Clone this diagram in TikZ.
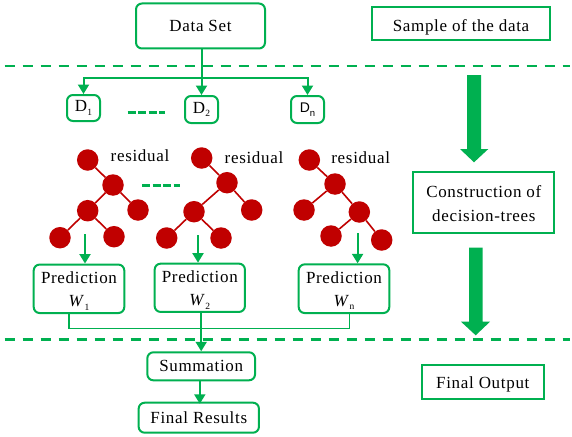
\documentclass[tikz,border=0pt]{standalone}
\usepackage{fontspec}
\setmainfont[LetterSpace=4]{Liberation Serif}
\usetikzlibrary{arrows.meta}
\definecolor{gr}{RGB}{0,176,80}
\definecolor{rd}{RGB}{192,0,0}
\tikzset{
  x=1pt,y=-1pt,
  rbox/.style={draw=gr,line width=2pt,rounded corners=6pt,align=center,inner sep=0pt,font=\fontsize{17}{23}\selectfont,fill=white},
  sbox/.style={draw=gr,line width=2pt,align=center,inner sep=0pt,font=\fontsize{17}{24.5}\selectfont},
  conn/.style={draw=gr,line width=2pt},
  arr/.style={conn,-{Triangle[length=9.5pt,width=11pt]}},
  dashline/.style={draw=gr,line width=2.2pt,dash pattern=on 10.5pt off 7.5pt},
  leaf/.style={circle,fill=rd,minimum size=21.5pt,inner sep=0pt},
  edge/.style={draw=rd,line width=1.6pt},
  txt/.style={font=\fontsize{17}{18}\selectfont,inner sep=0pt},
  bigarr/.style={fill=gr,draw=none},
  gapline/.style={gr,line width=2.4pt,dash pattern=on 8pt off 2.5pt}
}
\newcommand{\boxat}[5][rbox]{\node[#1,minimum width=#4pt,minimum height=#5pt] (#2) at (#3) }
\newcommand{\smallsub}[1]{\raisebox{-3.5pt}{\fontsize{9.5}{9.5}\selectfont #1}}
\begin{document}
\begin{tikzpicture}
\useasboundingbox (0,0) rectangle (572,436);
\fill[white] (0,0) rectangle (572,436);
% dashes
\coordinate (t1) at (4.7,66); \coordinate (t2) at (570,66);
\coordinate (b1) at (4.7,339.5); \coordinate (b2) at (570,339.5);
\draw[dashline] (t1) -- (t2);
\draw[dashline] (b1) -- (b2);
% top
\boxat{ds}{200.5,26}{129}{45} {Data Set};
\boxat{d1}{83.5,108}{33}{26} {D\smallsub{1}};
\boxat{d2}{201.5,109.5}{33}{27} {D\smallsub{2}};
\boxat{dn}{307.5,109.5}{33}{27} {\fontspec{Liberation Sans}\fontsize{14}{14}\selectfont D\smallsub{n}};
\coordinate (bus) at (201,78);
\draw[arr] (ds.south -| d2) -- (d2.north);
\draw[arr] (bus) -| (d1.north);
\draw[arr] (bus) -| (dn.north);
\coordinate (g1) at (127.5,112.5); \coordinate (g2) at (165,112.5);
\draw[gapline] (g1) -- (g2);
\coordinate (g3) at (142,185.3); \coordinate (g4) at (180,185.3);
\draw[gapline] (g3) -- (g4);
% right
\node[sbox,minimum width=178.6pt,minimum height=32.7pt] (s1) at (461,23.7) {\rule{0pt}{20pt}Sample of the data};
\node[sbox,minimum width=141pt,minimum height=61pt] (s2) at (483.8,202.2) {\rule{0pt}{15pt}Construction of\\decision-trees};
\node[sbox,minimum width=121.7pt,minimum height=34pt] (s3) at (482.8,382) {\rule{0pt}{16pt}Final Output};
% big arrows
\fill[bigarr] (467,75) -- (481,75) -- (481,149) -- (488.3,149) -- (474,162.3) -- (460,149) -- (467,149) -- cycle;
\fill[bigarr] (469,247.7) -- (482.7,247.7) -- (482.7,321.7) -- (490,321.7) -- (475.7,335.3) -- (461,321.7) -- (469,321.7) -- cycle;
% tree 1
\foreach \n/\p in {a/{87.7,160},b/{113,185},c/{87.7,210.7},d/{138,210},e/{60,237.7},f/{114,236.7}}
  \node[leaf] (\n1) at (\p) {};
\foreach \p/\q in {a/b,b/c,b/d,c/e,c/f} \draw[edge] (\p1) -- (\q1);
% tree 2
\foreach \n/\p in {a/{201.7,158},b/{227,182.7},c/{194,211.7},d/{251.7,210},e/{166.7,238},f/{221,238}}
  \node[leaf] (\n2) at (\p) {};
\foreach \p/\q in {a/b,b/c,b/d,c/e,c/f} \draw[edge] (\p2) -- (\q2);
% tree 3
\foreach \n/\p in {a/{309.3,160},b/{335,184},c/{304,210},d/{359.3,212},e/{331,236},f/{381.7,240}}
  \node[leaf] (\n3) at (\p) {};
\foreach \p/\q in {a/b,b/c,b/d,d/e,d/f} \draw[edge] (\p3) -- (\q3);
\node[txt] (r1) at (140,155.7) {residual};
\node[txt] (r2) at (254,158) {residual};
\node[txt] (r3) at (360.7,158) {residual};
% prediction
\boxat{p1}{79,288.8}{90.6}{48.5} {\rule{0pt}{16pt}Prediction\\[0pt]\textit{W}\smallsub{1}};
\boxat{p2}{199.8,287.8}{90.3}{48.3} {\rule{0pt}{16pt}Prediction\\[0pt]\textit{W}\smallsub{2}};
\boxat{p3}{344,288.7}{90.6}{48.7} {\rule{0pt}{16pt}Prediction\\[0pt]\textit{W}\smallsub{n}};
\coordinate (a1) at (85,234); \coordinate (a2) at (198,235); \coordinate (a3) at (357.6,233);
\draw[arr] (a1) -- (a1 |- p1.north);
\draw[arr] (a2) -- (a2 |- p2.north);
\draw[arr] (a3) -- (a3 |- p3.north);
% bottom
\boxat{sm}{201.2,366.3}{107.7}{28} {Summation};
\boxat{fr}{198.8,417.7}{120.3}{30} {Final Results};
\coordinate (l1) at (69,313); \coordinate (l2) at (69,328.3);
\coordinate (l3) at (349.3,328.3); \coordinate (l4) at (349.3,313);
\draw[conn,line width=1.5pt] (l1) -- (l2) -- (l3) -- (l4);
\draw[arr] (p2.south -| sm.north) -- (sm.north);
\draw[arr] (sm.south -| fr.north) ++(1,0) -- ++(0,22.5);
\end{tikzpicture}
\end{document}
